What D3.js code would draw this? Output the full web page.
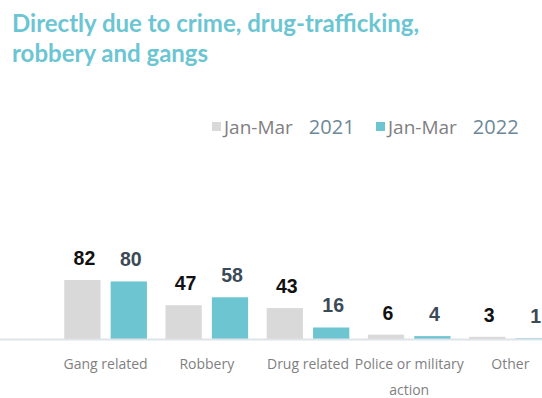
<!DOCTYPE html>
<html>
<head>
<meta charset="utf-8">
<script src="https://cdn.jsdelivr.net/npm/d3@7"></script>
<style>
  html, body { margin: 0; padding: 0; background: #fff; }
  svg { display: block; }
</style>
</head>
<body>
<svg id="chart" width="542" height="398"></svg>
<script>
// Reasons for displacement, counts per quarter
const categories = ["Gang related", "Robbery", "Drug related", "Police or military action", "Other"];
const values2021 = [82, 47, 43, 6, 3];
const values2022 = [80, 58, 16, 4, 1];
const seriesPeriods = ["Jan-Mar", "Jan-Mar"];
const seriesYears = ["2021", "2022"];
const seriesColors = ["#d9d9d9", "#6cc5d1"];
const labelColors = ["#111111", "#3b4a57"];
const titleLines = ["Directly due to crime, drug-trafficking,", "robbery and gangs"];

const svg = d3.select("#chart");
const W = 542, H = 398;
const baseY = 339;

const series = [values2021, values2022];
const rows = categories.map((c, i) => ({ cat: c, vals: series.map(s => s[i]) }));

const x0 = d3.scaleBand().domain(categories).range([55, 561]).paddingInner(0).paddingOuter(0);
const x1 = d3.scaleBand().domain([0, 1]).range([0, x0.bandwidth()]).paddingInner(0.218).paddingOuter(0.2);
const y = d3.scaleLinear().domain([0, 82]).range([baseY, 280]);

// Title
const title = svg.append("text")
  .attr("x", 12).attr("y", 32)
  .attr("fill", "#6cc5d3")
  .style("font-family", "Lato, 'Open Sans', sans-serif")
  .style("font-weight", 700)
  .style("font-size", "24px");
titleLines.forEach((t, i) => {
  title.append("tspan").attr("x", 12).attr("y", 32 + i * 30).text(t);
});

// Legend
const legendX = [212, 376];
const legend = svg.append("g").attr("class", "legend");
seriesYears.forEach((yr, i) => {
  const g = legend.append("g").attr("transform", `translate(${legendX[i]},0)`);
  g.append("rect").attr("x", 0).attr("y", 122).attr("width", 9).attr("height", 9).attr("fill", seriesColors[i]);
  const period = g.append("text").attr("x", 12).attr("y", 133.5)
    .attr("fill", "#7f7f7f")
    .style("font-family", "'Open Sans', sans-serif").style("font-size", "19px")
    .text(seriesPeriods[i]);
  const pw = period.node().getComputedTextLength();
  g.append("text").attr("x", 12 + pw + 16).attr("y", 133.5)
    .attr("fill", "#6d8898")
    .style("font-family", "'Open Sans', sans-serif").style("font-size", "20px")
    .text(yr);
});

// Bars
const groups = svg.append("g").selectAll("g").data(rows).join("g")
  .attr("transform", d => `translate(${x0(d.cat)},0)`);

groups.selectAll("rect").data(d => d.vals.map((v, i) => ({ v, i }))).join("rect")
  .attr("x", d => x1(d.i))
  .attr("width", x1.bandwidth())
  .attr("y", d => y(d.v))
  .attr("height", d => baseY - y(d.v))
  .attr("fill", d => seriesColors[d.i]);

// Value labels
groups.selectAll("text.val").data(d => d.vals.map((v, i) => ({ v, i }))).join("text")
  .attr("class", "val")
  .attr("x", d => x1(d.i) + x1.bandwidth() / 2 + 2)
  .attr("y", d => y(d.v) - 15)
  .attr("text-anchor", "middle")
  .attr("fill", d => labelColors[d.i])
  .style("font-family", "'Liberation Sans', Arial, sans-serif")
  .style("font-weight", 700)
  .style("font-size", "19.5px")
  .text(d => d.v);

// Baseline axis
svg.append("line")
  .attr("x1", 0).attr("x2", W)
  .attr("y1", baseY + 0.5).attr("y2", baseY + 0.5)
  .attr("stroke", "#dde4ea").attr("stroke-width", 2);

// Category labels, wrapped to fit the band
const catLabels = svg.append("g").selectAll("text").data(categories).join("text")
  .attr("x", d => x0(d) + x0.bandwidth() / 2)
  .attr("y", 369)
  .attr("text-anchor", "middle")
  .attr("fill", "#7f7f7f")
  .style("font-family", "'Open Sans', sans-serif")
  .style("font-size", "14px");

catLabels.each(function(d) {
  const el = d3.select(this);
  const cx = x0(d) + x0.bandwidth() / 2;
  const words = d.split(" ");
  const lines = [];
  let line = [];
  const maxW = 112;
  const probe = el.append("tspan");
  words.forEach(w => {
    const test = line.concat(w).join(" ");
    probe.text(test);
    if (probe.node().getComputedTextLength() > maxW && line.length) {
      lines.push(line.join(" "));
      line = [w];
    } else {
      line.push(w);
    }
  });
  lines.push(line.join(" "));
  probe.remove();
  lines.forEach((l, i) => {
    el.append("tspan").attr("x", cx).attr("dy", i === 0 ? 0 : 26).text(l);
  });
});
</script>
</body>
</html>
